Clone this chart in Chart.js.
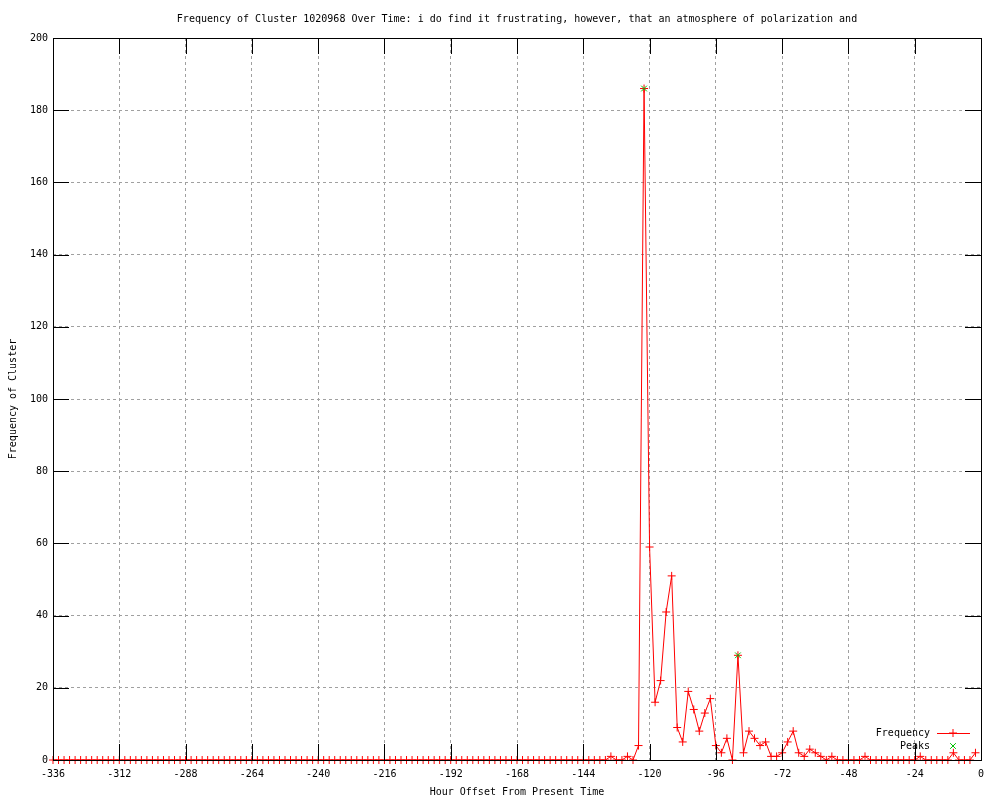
<!DOCTYPE html>
<html>
<head>
<meta charset="utf-8">
<title>Frequency of Cluster 1020968 Over Time</title>
<script src="https://cdn.jsdelivr.net/npm/chart.js@4.4.0/dist/chart.umd.min.js"></script>
<style>
    body { margin: 0; background: #fff; }
    canvas { display: block; }
</style>
</head>
<body>
<canvas id="grafico" width="1000" height="800"></canvas>
<script>
const FONTE = '"DejaVu Sans Mono", "Liberation Mono", monospace';

const titulo = 'Frequency of Cluster 1020968 Over Time: i do find it frustrating, however, that an atmosphere of polarization and';
const tituloX = 'Hour Offset From Present Time';
const tituloY = 'Frequency of Cluster';

// Horas de -336 até -2, de 2 em 2
const horas = [];
for (let h = -336; h <= -2; h += 2) horas.push(h);

// Frequência (12 valores por linha = 24 horas)
const frequencias = [
    0, 0, 0, 0, 0, 0, 0, 0, 0, 0, 0, 0,        // -336 .. -314
    0, 0, 0, 0, 0, 0, 0, 0, 0, 0, 0, 0,        // -312 .. -290
    0, 0, 0, 0, 0, 0, 0, 0, 0, 0, 0, 0,        // -288 .. -266
    0, 0, 0, 0, 0, 0, 0, 0, 0, 0, 0, 0,        // -264 .. -242
    0, 0, 0, 0, 0, 0, 0, 0, 0, 0, 0, 0,        // -240 .. -218
    0, 0, 0, 0, 0, 0, 0, 0, 0, 0, 0, 0,        // -216 .. -194
    0, 0, 0, 0, 0, 0, 0, 0, 0, 0, 0, 0,        // -192 .. -170
    0, 0, 0, 0, 0, 0, 0, 0, 0, 0, 0, 0,        // -168 .. -146
    0, 0, 0, 0, 0, 1, 0, 0, 1, 0, 4, 186,      // -144 .. -122
    59, 16, 22, 41, 51, 9, 5, 19, 14, 8, 13, 17, // -120 .. -98
    4, 2, 6, 0, 29, 2, 8, 6, 4, 5, 1, 1,       // -96 .. -74
    2, 5, 8, 2, 1, 3, 2, 1, 0, 1, 0, 0,        // -72 .. -50
    0, 0, 0, 1, 0, 0, 0, 0, 0, 0, 0, 0,        // -48 .. -26
    0, 1, 0, 0, 0, 0, 0, 2, 0, 0, 0, 2         // -24 .. -2
];

// Picos
const horasPicos = [-122, -88];
const valoresPicos = [186, 29];

const legendas = ['Frequency', 'Peaks'];
const cores = ['#ff0000', '#00c000'];

const TICK = 16;

// Centralizar o título sobre a área do gráfico (como no gnuplot)
const tituloCentrado = {
    id: 'tituloCentrado',
    afterLayout(chart) {
        if (chart.titleBlock) chart.titleBlock.left = chart.chartArea.left;
    }
};

// Borda, ticks internos (estilo gnuplot)
const bordaTicks = {
    id: 'bordaTicks',
    afterDatasetsDraw(chart) {
        const { ctx, chartArea: a, scales: { x, y } } = chart;
        ctx.save();
        ctx.strokeStyle = '#000';
        ctx.lineWidth = 1;
        ctx.beginPath();
        x.ticks.forEach(t => {
            const px = Math.round(x.getPixelForValue(t.value)) + 0.5;
            ctx.moveTo(px, a.bottom);
            ctx.lineTo(px, a.bottom - TICK);
            ctx.moveTo(px, a.top);
            ctx.lineTo(px, a.top + TICK);
        });
        y.ticks.forEach(t => {
            const py = Math.round(y.getPixelForValue(t.value)) + 0.5;
            ctx.moveTo(a.left, py);
            ctx.lineTo(a.left + TICK, py);
            ctx.moveTo(a.right, py);
            ctx.lineTo(a.right - TICK, py);
        });
        ctx.stroke();
        ctx.strokeRect(Math.round(a.left) + 0.5, Math.round(a.top) + 0.5,
            Math.round(a.right - a.left), Math.round(a.bottom - a.top));
        ctx.restore();
    }
};

// Legenda no canto inferior direito
const legendaGnuplot = {
    id: 'legendaGnuplot',
    afterDraw(chart) {
        const { ctx, chartArea: a } = chart;
        const xTexto = a.right - 51;
        const xAmostra = a.right - 28;
        ctx.save();
        ctx.font = '10px ' + FONTE;
        ctx.fillStyle = '#000';
        ctx.textAlign = 'right';
        ctx.textBaseline = 'middle';
        legendas.forEach((nome, i) => {
            const py = a.bottom - 27 + i * 13;
            ctx.fillText(nome, xTexto, py);
            ctx.strokeStyle = cores[i];
            ctx.lineWidth = 1;
            if (i === 0) {
                ctx.beginPath();
                ctx.moveTo(a.right - 44, py + 0.5);
                ctx.lineTo(a.right - 11, py + 0.5);
                ctx.stroke();
            }
            Chart.helpers.drawPoint(ctx, {
                pointStyle: i === 0 ? 'cross' : 'crossRot',
                radius: 4,
                rotation: 0,
                borderWidth: 1
            }, xAmostra, py);
        });
        ctx.restore();
    }
};

const ctx = document.getElementById('grafico').getContext('2d');

new Chart(ctx, {
    type: 'line',
    data: {
        datasets: [{
            label: legendas[0],
            data: horas.map((h, i) => ({ x: h, y: frequencias[i] })),
            borderColor: cores[0],
            backgroundColor: cores[0],
            borderWidth: 1,
            pointStyle: 'cross',
            pointRadius: 4,
            pointBorderWidth: 1,
            tension: 0,
            clip: 8,
            order: 2
        }, {
            label: legendas[1],
            data: horasPicos.map((h, i) => ({ x: h, y: valoresPicos[i] })),
            borderColor: cores[1],
            backgroundColor: cores[1],
            showLine: false,
            pointStyle: 'crossRot',
            pointRadius: 4,
            pointBorderWidth: 1,
            clip: 8,
            order: 1
        }]
    },
    options: {
        responsive: false,
        animation: false,
        layout: { padding: { left: 0, right: 19, top: 0, bottom: 0 } },
        plugins: {
            legend: { display: false },
            tooltip: { enabled: false },
            title: {
                display: true,
                text: titulo,
                color: '#000',
                font: { family: FONTE, size: 10, weight: 'normal' },
                padding: { top: 13, bottom: 13 }
            }
        },
        scales: {
            x: {
                type: 'linear',
                min: -336,
                max: 0,
                afterFit: s => { s.height = 40; s.paddingLeft = 0; s.paddingRight = 0; },
                ticks: {
                    stepSize: 24,
                    autoSkip: false,
                    maxRotation: 0,
                    padding: 8,
                    color: '#000',
                    font: { family: FONTE, size: 10 }
                },
                grid: { color: '#a0a0a0', drawTicks: false },
                border: { display: false, dash: [3, 3] },
                title: {
                    display: true,
                    text: tituloX,
                    color: '#000',
                    font: { family: FONTE, size: 10 },
                    padding: { top: 0, bottom: 2 }
                }
            },
            y: {
                min: 0,
                max: 200,
                afterFit: s => { s.width = 53; s.paddingTop = 0; s.paddingBottom = 0; },
                ticks: {
                    stepSize: 20,
                    padding: 5,
                    color: '#000',
                    font: { family: FONTE, size: 10 }
                },
                grid: { color: '#a0a0a0', drawTicks: false },
                border: { display: false, dash: [3, 3] },
                title: {
                    display: true,
                    text: tituloY,
                    color: '#000',
                    font: { family: FONTE, size: 10 },
                    padding: { top: 7, bottom: 0 }
                }
            }
        }
    },
    plugins: [tituloCentrado, bordaTicks, legendaGnuplot]
});
</script>
</body>
</html>
